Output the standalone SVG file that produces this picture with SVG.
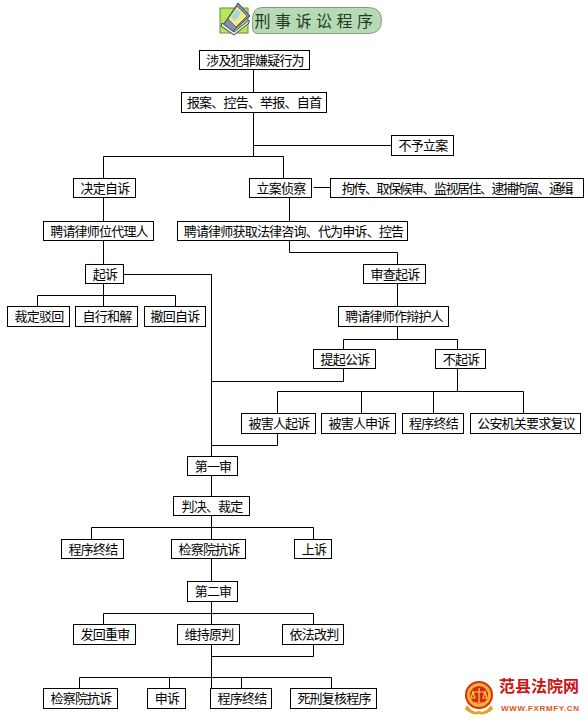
<svg xmlns="http://www.w3.org/2000/svg" width="588" height="722" viewBox="0 0 588 722">
<style>
.b{fill:#fff;stroke:#000;stroke-width:1}
.t{font-family:"Noto Sans CJK SC","Liberation Sans",sans-serif;font-size:13px;letter-spacing:-.8px;fill:#000;text-anchor:middle}
.c{fill:none;stroke:#000;stroke-width:1}
</style>
<rect width="588" height="722" fill="#fff"/>
<g id="title">
<rect x="220" y="8" width="28" height="25" fill="#b4e85c" stroke="#6a8a3a"/>
<path d="M226 21 L238 3 L250 16 L243 22 L232 32 L222 26 Z" fill="#8090b8" stroke="#444"/>
<path d="M228 19 L237 6 L247 16 L236 27 Z" fill="#f6e88a" stroke="#666"/>
<path d="M231 17 L237 9 L241 13 L235 21 Z" fill="#9fd8e0"/>
<path d="M222 23 L234 32 L249 20 L249 23 L234 35 L221 26 Z" fill="#e8e8f0" stroke="#444"/>
<path d="M252.500 20.500 Q252.500 7.500 262 7.500 H368 Q381.500 7.500 381.500 20.500 Q381.500 33.500 368 33.500 H258 Q252.500 33.500 252.500 28 Z" fill="#b7d9b4" stroke="#7fa07f"/>
<text x="316" y="26.500" font-family="'Noto Sans CJK SC',sans-serif" font-size="16" letter-spacing="4.500" text-anchor="middle" fill="#1d3a26">刑事诉讼程序</text>
</g>
<g id="connectors">
<path class="c" d="M253.500 69.500V156.500M103.500 178V156.500H283.500V178M253.500 145.500H391.500"/>
<path class="c" d="M313.500 187.500H330.500"/>
<path class="c" d="M103.500 197.500V306M37.500 306V295.500H175.500V306"/>
<path class="c" d="M123.500 274.500H211.500V456.500"/>
<path class="c" d="M289.500 197.500V252.500H397.500V339.500M343.500 349.500V339.500H457.500V349.500"/>
<path class="c" d="M343.500 368.500V381.500H211.500"/>
<path class="c" d="M457.500 368.500V391.500M277.500 413.500V391.500H523.500V413.500M361.500 391.500V413.500M433.500 391.500V413.500"/>
<path class="c" d="M277.500 433.500V445.500H211.500"/>
<path class="c" d="M211.500 475.500V496M211.500 515.500V539.500M91.500 539.500V527.500H313.500V539.500"/>
<path class="c" d="M211.500 558.500V581.500M211.500 601.500V624.500M103.500 624.500V613.500H313.500V624.500"/>
<path class="c" d="M211.500 644.500V688.500M313.500 644.500V656.500H211.500M79.500 688.500V677.500H331.500V688.500M169.500 677.500V688.500M241.500 677.500V688.500"/>
</g>
<g id="n1"><rect class="b" x="199.500" y="50.500" width="110" height="19"/><text class="t" x="255" y="64.500">涉及犯罪嫌疑行为</text></g>
<g id="n2"><rect class="b" x="181.500" y="92.500" width="145" height="20"/><text class="t" x="254" y="107">报案、控告、举报、自首</text></g>
<g id="n3"><rect class="b" x="391.500" y="135.500" width="62" height="20"/><text class="t" x="423" y="150">不予立案</text></g>
<g id="n4"><rect class="b" x="73.500" y="178.500" width="62" height="19"/><text class="t" x="105" y="192.500">决定自诉</text></g>
<g id="n5"><rect class="b" x="249.500" y="178.500" width="62" height="19"/><text class="t" x="281" y="192.500">立案侦察</text></g>
<g id="n6"><rect class="b" x="330.500" y="178.500" width="253" height="19"/><text class="t" x="457" y="192.500" style="letter-spacing:-1.500px">拘传、取保候审、监视居住、逮捕拘留、通缉</text></g>
<g id="n7"><rect class="b" x="43.500" y="221.500" width="110" height="19"/><text class="t" x="99" y="235.500">聘请律师位代理人</text></g>
<g id="n8"><rect class="b" x="177.500" y="221.500" width="230" height="19"/><text class="t" x="293.500" y="235.500">聘请律师获取法律咨询、代为申诉、控告</text></g>
<g id="n9"><rect class="b" x="85.500" y="264.500" width="38" height="19"/><text class="t" x="105" y="278.500">起诉</text></g>
<g id="n10"><rect class="b" x="363.500" y="264.500" width="62" height="19"/><text class="t" x="395" y="278.500">审查起诉</text></g>
<g id="n11"><rect class="b" x="7.500" y="306.500" width="62" height="20"/><text class="t" x="39" y="321">裁定驳回</text></g>
<g id="n12"><rect class="b" x="75.500" y="306.500" width="62" height="20"/><text class="t" x="107" y="321">自行和解</text></g>
<g id="n13"><rect class="b" x="144.500" y="306.500" width="61" height="20"/><text class="t" x="175" y="321">撤回自诉</text></g>
<g id="n14"><rect class="b" x="338.500" y="306.500" width="110" height="20"/><text class="t" x="394" y="321">聘请律师作辩护人</text></g>
<g id="n15"><rect class="b" x="313.500" y="349.500" width="62" height="19"/><text class="t" x="345" y="363.500">提起公诉</text></g>
<g id="n16"><rect class="b" x="435.500" y="349.500" width="50" height="19"/><text class="t" x="461" y="363.500">不起诉</text></g>
<g id="n17"><rect class="b" x="241.500" y="413.500" width="74" height="20"/><text class="t" x="279" y="428">被害人起诉</text></g>
<g id="n18"><rect class="b" x="321.500" y="413.500" width="74" height="20"/><text class="t" x="359" y="428">被害人申诉</text></g>
<g id="n19"><rect class="b" x="402.500" y="413.500" width="61" height="20"/><text class="t" x="433.500" y="428">程序终结</text></g>
<g id="n20"><rect class="b" x="470.500" y="413.500" width="110" height="20"/><text class="t" x="526" y="428">公安机关要求复议</text></g>
<g id="n21"><rect class="b" x="187.500" y="456.500" width="50" height="19"/><text class="t" x="213" y="470.500">第一审</text></g>
<g id="n22"><rect class="b" x="173.500" y="496.500" width="76" height="19"/><text class="t" x="212" y="510.500">判决、裁定</text></g>
<g id="n23"><rect class="b" x="61.500" y="539.500" width="62" height="19"/><text class="t" x="93" y="553.500">程序终结</text></g>
<g id="n24"><rect class="b" x="171.500" y="539.500" width="74" height="19"/><text class="t" x="209" y="553.500">检察院抗诉</text></g>
<g id="n25"><rect class="b" x="294.500" y="539.500" width="37" height="19"/><text class="t" x="314" y="553.500">上诉</text></g>
<g id="n26"><rect class="b" x="187.500" y="581.500" width="50" height="20"/><text class="t" x="213" y="596">第二审</text></g>
<g id="n27"><rect class="b" x="73.500" y="624.500" width="62" height="20"/><text class="t" x="105" y="639">发回重审</text></g>
<g id="n28"><rect class="b" x="177.500" y="624.500" width="62" height="20"/><text class="t" x="209" y="639">维持原判</text></g>
<g id="n29"><rect class="b" x="282.500" y="624.500" width="61" height="20"/><text class="t" x="314" y="639">依法改判</text></g>
<g id="n30"><rect class="b" x="43.500" y="688.500" width="74" height="20"/><text class="t" x="81" y="703">检察院抗诉</text></g>
<g id="n31"><rect class="b" x="147.500" y="688.500" width="38" height="20"/><text class="t" x="167" y="703">申诉</text></g>
<g id="n32"><rect class="b" x="210.500" y="688.500" width="61" height="20"/><text class="t" x="242" y="703">程序终结</text></g>
<g id="n33"><rect class="b" x="290.500" y="688.500" width="86" height="20"/><text class="t" x="334" y="703">死刑复核程序</text></g>
<g id="logo">
<path d="M467 705 Q473 714 479 711 Q485 714 491 705 L493 709 Q486 716 479 714 Q472 716 465 709 Z" fill="#e8a020"/>
<circle cx="479" cy="695" r="13" fill="#f2b030" stroke="#d8301a" stroke-width="2"/>
<circle cx="479" cy="695" r="9" fill="#d8281c"/>
<path d="M479 688V703M472 692H486M473 692L471 698H475ZM485 692L483 698H487ZM474 703H484" stroke="#f6d040" stroke-width="1.200" fill="none"/>
<text x="499" y="692" font-family="'Noto Sans CJK SC',sans-serif" font-size="16" font-weight="700" fill="#cc1414" textLength="80">范县法院网</text>
<text x="501" y="711" font-family="'Liberation Sans',sans-serif" font-size="8" font-weight="700" fill="#d8561c" textLength="78">WWW.FXRMFY.CN</text>
</g>
</svg>
